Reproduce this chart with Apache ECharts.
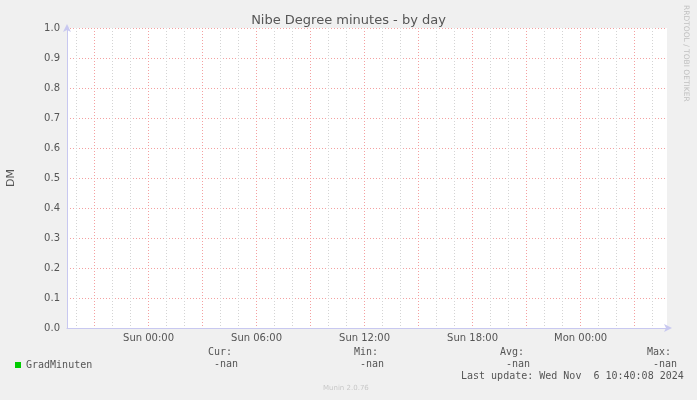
<!DOCTYPE html>
<html>
<head>
<meta charset="utf-8">
<script src="https://cdn.jsdelivr.net/npm/echarts@6/dist/echarts.min.js"></script>
<style>
html,body{margin:0;padding:0;background:#f0f0f0;}
#c{width:697px;height:400px;}
</style>
</head>
<body>
<div id="c"></div>
<script>
// ---- data ----
const seriesName = 'GradMinuten';
const seriesValues = []; // no data (all -nan)
const labelHours = [0, 6, 12, 18, 24];
const tickLabels = ['Sun 00:00', 'Sun 06:00', 'Sun 12:00', 'Sun 18:00', 'Mon 00:00'];
const majorHours = [-3, 0, 3, 6, 9, 12, 15, 18, 21, 24, 27];
const minorHours = [-4, -2, -1, 1, 2, 4, 5, 7, 8, 10, 11, 13, 14, 16, 17, 19, 20, 22, 23, 25, 26, 28];
const xMin = -4.53, xMax = 28.8;
const statLabels = ['Cur:', 'Min:', 'Avg:', 'Max:'];
const statValues = ['-nan', '-nan', '-nan', '-nan'];
const lastUpdate = 'Last update: Wed Nov  6 10:40:08 2024';

const chart = echarts.init(document.getElementById('c'), null, {renderer: 'canvas'});
const mono = '"DejaVu Sans Mono", monospace';
const sans = '"DejaVu Sans", sans-serif';
const statX = [208, 354, 500, 647];
const graphics = [];
statLabels.forEach((s, i) => {
  graphics.push({type: 'text', left: statX[i], top: 347, style: {text: s, font: '10px ' + mono, fill: '#555'}});
  graphics.push({type: 'text', left: statX[i] + 6, top: 359, style: {text: statValues[i], font: '10px ' + mono, fill: '#555'}});
});
graphics.push({type: 'text', left: 461, top: 371, style: {text: lastUpdate, font: '10px ' + mono, fill: '#555'}});
graphics.push({type: 'text', left: 323, top: 385, style: {text: 'Munin 2.0.76', font: '7px ' + sans, fill: '#c8c8c8'}});
graphics.push({type: 'text', x: 690, y: 5, rotation: -Math.PI / 2, style: {text: 'RRDTOOL / TOBI OETIKER', font: '7.5px ' + sans, fill: '#c0c0c0'}});

chart.setOption({
  backgroundColor: '#f0f0f0',
  animation: false,
  title: {
    text: 'Nibe Degree minutes - by day',
    left: 'center', top: 9,
    textStyle: {fontFamily: sans, fontSize: 13, fontWeight: 'normal', color: '#555'}
  },
  legend: {
    data: [seriesName], left: 10, top: 355, icon: 'rect', itemWidth: 6, itemHeight: 6, itemGap: 5,
    textStyle: {fontFamily: mono, fontSize: 10, color: '#555'}
  },
  grid: {left: 67, right: 30, top: 28, bottom: 72, show: true, backgroundColor: '#fff', borderWidth: 0,
    containLabel: false, outerBoundsMode: 'none'},
  xAxis: [{
    type: 'value', min: xMin, max: xMax, position: 'bottom',
    axisLine: {show: true, onZero: false, lineStyle: {color: '#c8c8f0', width: 1}, symbol: ['none', 'arrow'], symbolSize: [6, 8], symbolOffset: [0, 5]},
    axisTick: {show: false, customValues: majorHours},
    axisLabel: {customValues: labelHours, color: '#555', fontFamily: sans, fontSize: 10, margin: 5,
      formatter: v => tickLabels[labelHours.indexOf(v)] || ''},
    splitLine: {show: true, lineStyle: {color: '#f4a0a0', type: [1, 2], width: 1}}
  }, {
    type: 'value', min: xMin, max: xMax, position: 'bottom',
    axisLine: {show: false, onZero: false}, axisTick: {show: false, customValues: minorHours}, axisLabel: {show: false},
    splitLine: {show: true, lineStyle: {color: '#d4d4d4', type: [1, 2], width: 1}}
  }],
  yAxis: {
    type: 'value', min: 0, max: 1, interval: 0.1, name: 'DM', nameLocation: 'middle', nameGap: 50,
    nameTextStyle: {fontFamily: sans, fontSize: 11, color: '#555'},
    axisLine: {show: true, onZero: false, lineStyle: {color: '#c8c8f0'}, symbol: ['none', 'arrow'], symbolSize: [6, 8], symbolOffset: [0, 4]},
    axisTick: {show: false},
    axisLabel: {color: '#555', fontFamily: sans, fontSize: 10, margin: 7, formatter: v => v.toFixed(1)},
    splitLine: {show: true, lineStyle: {color: '#f4a0a0', type: [1, 2], width: 1}}
  },
  series: [{name: seriesName, type: 'line', xAxisIndex: 0, data: seriesValues, itemStyle: {color: '#00cc00'}, showSymbol: false}],
  graphic: graphics
});
</script>
</body>
</html>
